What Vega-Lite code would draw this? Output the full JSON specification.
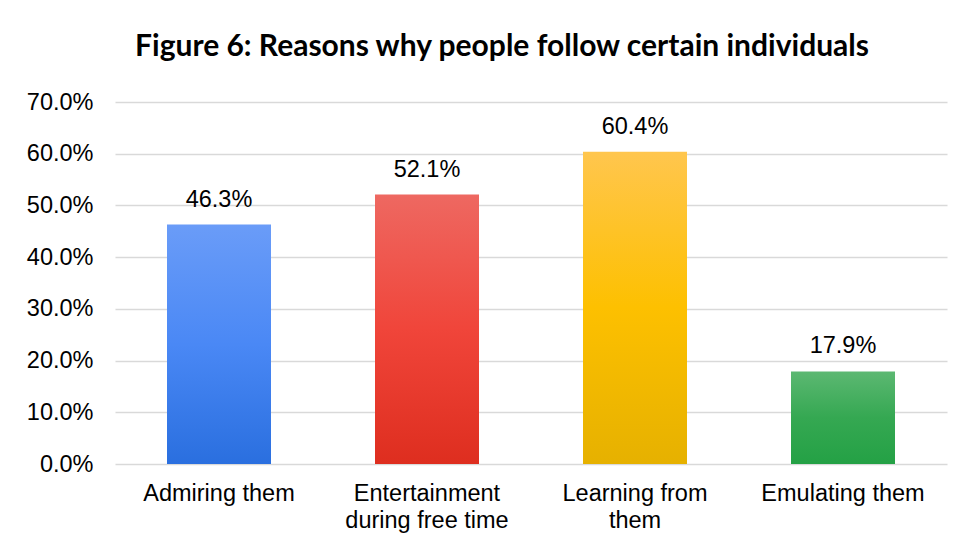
{
  "$schema": "https://vega.github.io/schema/vega-lite/v6.json",
  "width": 832,
  "height": 362,
  "autosize": {"type": "none"},
  "padding": {"left": 115, "top": 102, "right": 17, "bottom": 80},
  "background": "white",
  "title": {
    "text": "Figure 6: Reasons why people follow certain individuals",
    "font": "Lato",
    "fontSize": 30,
    "fontWeight": "bold",
    "color": "#000000",
    "anchor": "middle",
    "dx": -29,
    "offset": 28
  },
  "config": {
    "view": {"stroke": null},
    "axis": {"labelFont": "Liberation Sans", "labelColor": "#000000"}
  },
  "data": {
    "values": [
      {"reason": "Admiring them", "value": 0.463},
      {"reason": "Entertainment|during free time", "value": 0.521},
      {"reason": "Learning from|them", "value": 0.604},
      {"reason": "Emulating them", "value": 0.179}
    ]
  },
  "encoding": {
    "x": {
      "field": "reason",
      "type": "nominal",
      "sort": null,
      "scale": {"paddingInner": 0.5, "paddingOuter": 0.25},
      "axis": {
        "title": null,
        "labelAngle": 0,
        "labelFontSize": 23.5,
        "labelPadding": 17,
        "labelLineHeight": 27,
        "labelBaseline": "top",
        "labelExpr": "split(datum.label, '|')",
        "ticks": false,
        "domain": false
      }
    },
    "y": {
      "field": "value",
      "type": "quantitative",
      "scale": {"domain": [0, 0.7]},
      "axis": {
        "title": null,
        "format": ".1%",
        "values": [0, 0.1, 0.2, 0.3, 0.4, 0.5, 0.6, 0.7],
        "labelFontSize": 23.5,
        "labelPadding": 22,
        "ticks": false,
        "domain": false,
        "gridColor": "#d9d9d9",
        "gridWidth": 1.5
      }
    }
  },
  "layer": [
    {
      "transform": [{"filter": "datum.reason === 'Admiring them'"}],
      "mark": {"type": "bar", "color": {"gradient": "linear", "x1": 0, "y1": 0, "x2": 0, "y2": 1, "stops": [{"offset": 0, "color": "#6a9cf8"}, {"offset": 0.5, "color": "#4a88f5"}, {"offset": 1, "color": "#2a6fdf"}]}}
    },
    {
      "transform": [{"filter": "datum.reason === 'Entertainment|during free time'"}],
      "mark": {"type": "bar", "color": {"gradient": "linear", "x1": 0, "y1": 0, "x2": 0, "y2": 1, "stops": [{"offset": 0, "color": "#ee6861"}, {"offset": 0.5, "color": "#f0453a"}, {"offset": 1, "color": "#de2e1f"}]}}
    },
    {
      "transform": [{"filter": "datum.reason === 'Learning from|them'"}],
      "mark": {"type": "bar", "color": {"gradient": "linear", "x1": 0, "y1": 0, "x2": 0, "y2": 1, "stops": [{"offset": 0, "color": "#ffc64e"}, {"offset": 0.5, "color": "#fdc000"}, {"offset": 1, "color": "#e6b100"}]}}
    },
    {
      "transform": [{"filter": "datum.reason === 'Emulating them'"}],
      "mark": {"type": "bar", "color": {"gradient": "linear", "x1": 0, "y1": 0, "x2": 0, "y2": 1, "stops": [{"offset": 0, "color": "#5cb872"}, {"offset": 0.5, "color": "#35a852"}, {"offset": 1, "color": "#24a145"}]}}
    },
    {
      "mark": {"type": "text", "baseline": "bottom", "dy": -13, "fontSize": 23.5, "font": "Liberation Sans", "color": "#000000"},
      "encoding": {
        "text": {"field": "value", "type": "quantitative", "format": ".1%"}
      }
    }
  ]
}
